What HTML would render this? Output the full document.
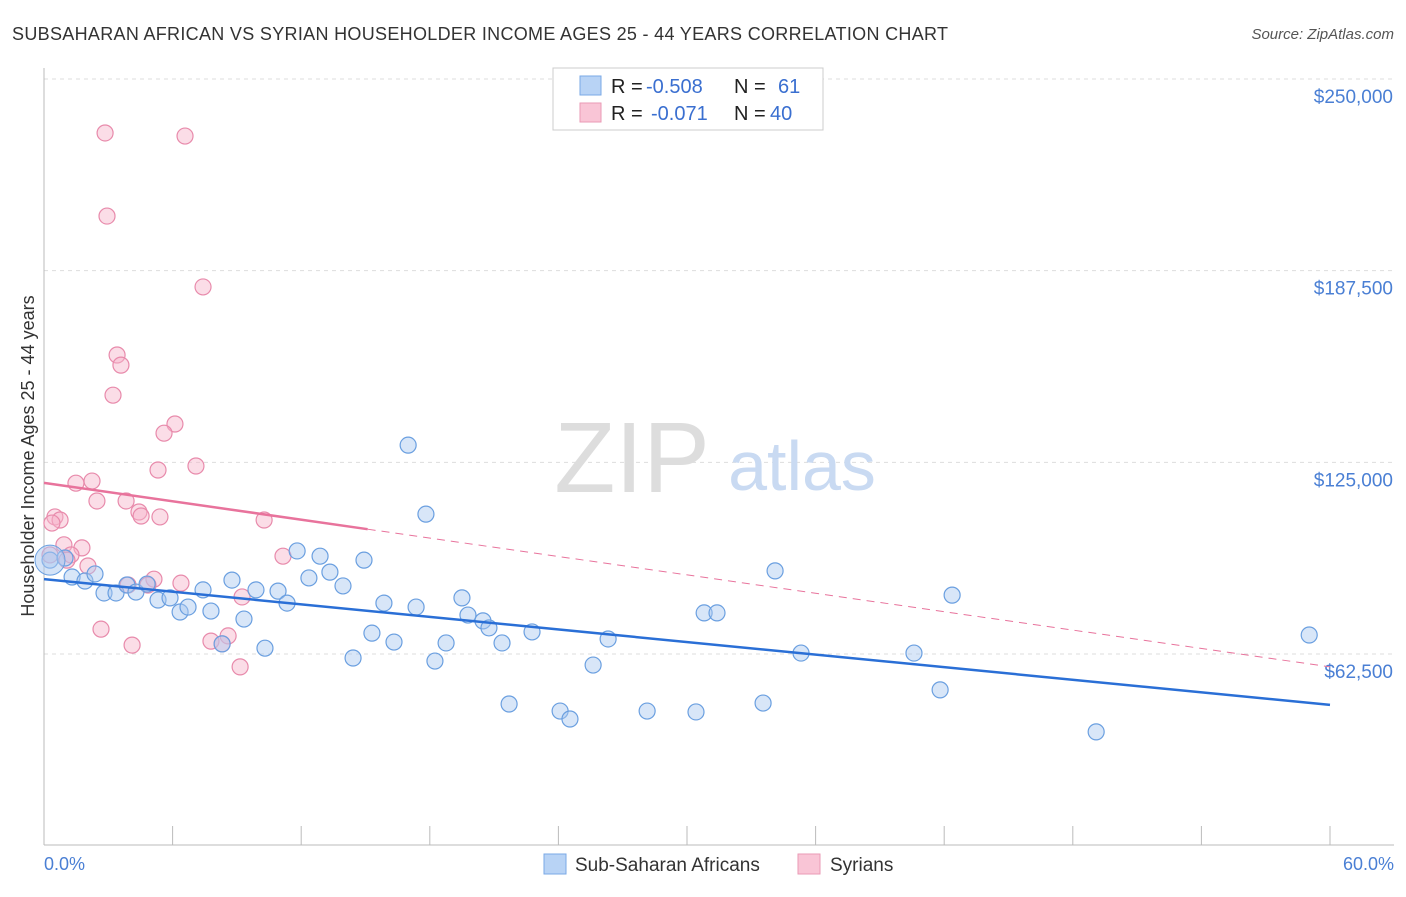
<!DOCTYPE html>
<html><head><meta charset="utf-8"><style>
body{margin:0;background:#fff;font-family:"Liberation Sans",sans-serif;}
svg text{font-family:"Liberation Sans",sans-serif;}
</style></head><body>
<svg width="1406" height="892" viewBox="0 0 1406 892">
<text x="12" y="40" font-size="18" fill="#333" textLength="936">SUBSAHARAN AFRICAN VS SYRIAN HOUSEHOLDER INCOME AGES 25 - 44 YEARS CORRELATION CHART</text>
<text x="1394" y="39" font-size="15" fill="#555" font-style="italic" text-anchor="end">Source: ZipAtlas.com</text>
<g id="grid"></g>
<text x="632" y="492" font-size="100" fill="#ddd" font-family="Liberation Serif" text-anchor="middle">ZIP</text>
<text x="802" y="490" font-size="70" fill="#c9daf2" text-anchor="middle">atlas</text>
<g id="axes"></g>
<g id="marks"></g>
<text x="34" y="456" font-size="18" fill="#333" text-anchor="middle" transform="rotate(-90 34 456)">Householder Income Ages 25 - 44 years</text>
<text x="44" y="870" font-size="18" fill="#4a7fd4">0.0%</text>
<text x="1394" y="870" font-size="18" fill="#4a7fd4" text-anchor="end">60.0%</text>
<g>
<rect x="553" y="68" width="270" height="62" fill="#fff" stroke="#ccc"/>
<rect x="580" y="76" width="21" height="19" fill="#b8d3f5" stroke="#7aa8e6"/>
<rect x="580" y="103" width="21" height="19" fill="#f9c5d6" stroke="#ea9ab5"/>
<text x="611" y="93" font-size="20" fill="#222">R =</text>
<text x="646" y="93" font-size="20" fill="#3a6fd0">-0.508</text>
<text x="734" y="93" font-size="20" fill="#222">N =</text>
<text x="778" y="93" font-size="20" fill="#3a6fd0">61</text>
<text x="611" y="120" font-size="20" fill="#222">R =</text>
<text x="651" y="120" font-size="20" fill="#3a6fd0">-0.071</text>
<text x="734" y="120" font-size="20" fill="#222">N =</text>
<text x="770" y="120" font-size="20" fill="#3a6fd0">40</text>
</g>
<g>
<rect x="544" y="854" width="22" height="20" fill="#b8d3f5" stroke="#7aa8e6"/>
<text x="575" y="871" font-size="19" fill="#333">Sub-Saharan Africans</text>
<rect x="798" y="854" width="22" height="20" fill="#f9c5d6" stroke="#ea9ab5"/>
<text x="830" y="871" font-size="19" fill="#333">Syrians</text>
</g>
</svg>
<script>
const yTicks=[62.5,125,187.5,250];
const yTickLabels=["$62,500","$125,000","$187,500","$250,000"];
const xTicks=[0,6,12,18,24,30,36,42,48,54,60];
const blueX=[0.28,0.98,1.31,1.91,2.38,2.80,3.36,3.87,4.29,4.81,5.32,5.88,6.35,6.72,7.42,7.79,8.31,8.77,9.33,9.89,10.31,10.92,11.34,11.81,12.36,12.88,13.34,13.95,14.42,14.93,15.30,15.86,16.33,16.99,17.36,17.82,18.24,18.76,19.50,19.78,20.48,20.76,21.37,21.70,22.77,24.08,24.54,25.62,26.32,28.14,30.42,30.80,31.40,33.55,34.11,35.32,40.59,41.81,42.37,49.09,59.03];
const blueY=[93.1,93.8,87.6,86.3,88.6,82.4,82.4,85.0,82.7,85.3,80.1,80.8,76.2,77.8,83.4,76.5,65.8,86.6,73.9,83.4,64.4,83.0,79.1,96.1,87.3,94.4,89.2,84.7,61.2,93.1,69.3,79.1,66.4,130.6,77.8,108.1,60.2,66.1,80.8,75.2,73.3,71.0,66.1,46.2,69.7,43.9,41.3,58.9,67.4,43.9,43.6,75.9,75.9,46.5,89.6,62.8,62.8,50.8,81.7,37.1,68.7];
const pinkX=[2.85,6.58,2.94,7.42,3.41,3.59,3.22,6.11,5.60,5.32,7.09,1.49,2.24,2.47,3.83,4.43,4.53,5.41,0.51,0.75,0.37,10.27,0.93,1.77,1.26,1.07,2.05,11.15,5.13,6.39,3.92,4.85,9.24,2.66,4.11,7.79,8.59,8.31,9.15,0.28];
const pinkY=[232.4,231.4,205.3,182.2,160.0,156.7,146.9,137.5,134.5,122.5,123.8,118.2,118.9,112.4,112.4,108.8,107.5,107.2,107.2,106.2,105.2,106.2,98.1,97.1,94.8,93.1,91.2,94.4,86.9,85.6,85.0,85.0,81.1,70.6,65.4,66.7,68.4,65.8,58.3,94.8];
const blueLine=[86.9,45.9];
const pinkLine=[118.3,58.3];
const pinkSolidEnd=15.1;
const NS="http://www.w3.org/2000/svg";
const xs=v=>44+v/60*1286;
const ys=v=>79+(250-v)/187.5*575;
function mk(t,a,p){const e=document.createElementNS(NS,t);for(const k in a)e.setAttribute(k,a[k]);p.appendChild(e);return e;}
const grid=document.getElementById('grid'),axes=document.getElementById('axes'),marks=document.getElementById('marks');
yTicks.forEach((v,i)=>{
 const l=mk('line',{x1:44,x2:1394,y1:ys(v),y2:ys(v),stroke:'#ddd','stroke-dasharray':'4,4'},grid);
 
 
 const t=mk('text',{x:1393,y:ys(v)+24,'font-size':19,fill:'#4a7fd4','text-anchor':'end'},axes);
 t.textContent=yTickLabels[i];
 
 
});
const ax=mk('line',{x1:44,x2:1394,y1:845,y2:845,stroke:'#bbb'},axes);


const ay=mk('line',{x1:44,x2:44,y1:68,y2:845,stroke:'#bbb'},axes);


xTicks.forEach(v=>{
 const l=mk('line',{x1:xs(v),x2:xs(v),y1:826,y2:845,stroke:'#bbb'},axes);
 
 
});
function dots(X,Y,fill,stroke,name){
 X.forEach((x,i)=>{
  const c=mk('circle',{cx:xs(x),cy:ys(Y[i]),r:8,fill:fill,'fill-opacity':0.45,stroke:stroke,'stroke-width':1.2},marks);
  
  
 });
}
dots(pinkX,pinkY,'#f7b3ca','#e88aab','syrian-point');
dots(blueX,blueY,'#a9c8ef','#6a9fe0','sub-saharan-point');
const big=mk('circle',{cx:xs(blueX[0]),cy:ys(blueY[0]),r:15,fill:'#a9c8ef','fill-opacity':0.5,stroke:'#6a9fe0'},marks);


const bl=mk('line',{x1:xs(0),y1:ys(blueLine[0]),x2:xs(60),y2:ys(blueLine[1]),stroke:'#2a6fd6','stroke-width':2.5},marks);


const pAt=x=>pinkLine[0]+(pinkLine[1]-pinkLine[0])*x/60;
const pl=mk('line',{x1:xs(0),y1:ys(pinkLine[0]),x2:xs(pinkSolidEnd),y2:ys(pAt(pinkSolidEnd)),stroke:'#e8739c','stroke-width':2.5},marks);


const pd=mk('line',{x1:xs(pinkSolidEnd),y1:ys(pAt(pinkSolidEnd)),x2:xs(60),y2:ys(pinkLine[1]),stroke:'#e8739c','stroke-width':1,'stroke-dasharray':'8,6'},marks);


</script>
</body></html>
